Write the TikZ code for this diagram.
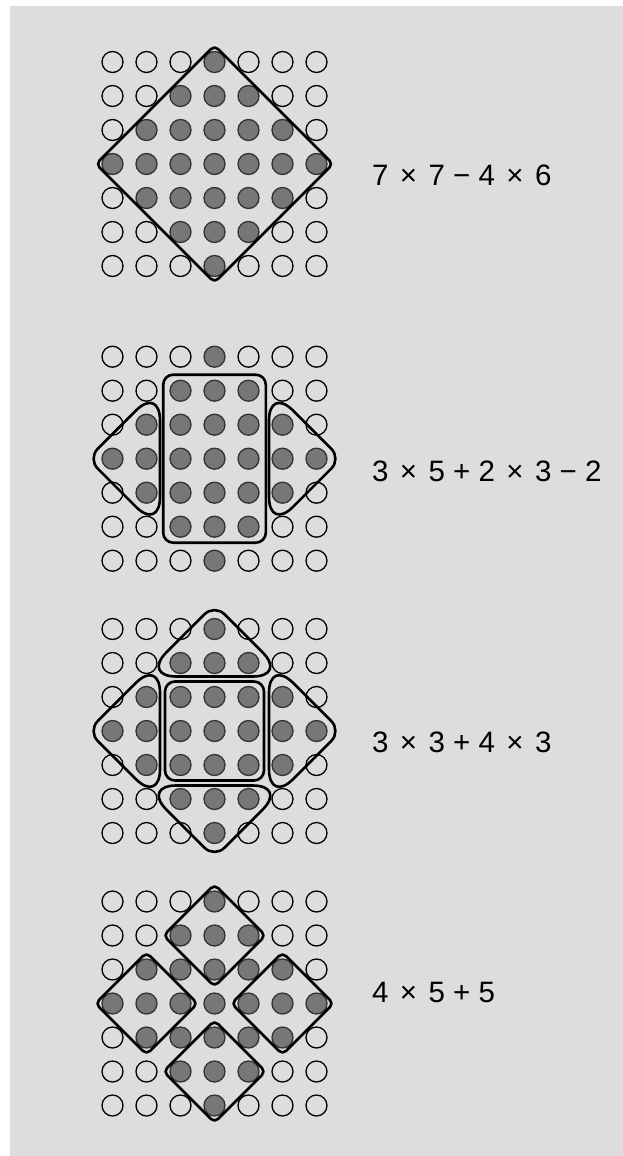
\documentclass[tikz,border=0pt]{standalone}
\usepackage{fontspec}
\setmainfont{Liberation Sans}
\usetikzlibrary{positioning}

\definecolor{panel}{RGB}{221,221,221}
\definecolor{beadgray}{RGB}{119,119,119}

% times sign, set a little wider
\newcommand{\by}{\kern3.2pt×\kern3.2pt}
% triangle of four beads, pointing out from the centre bead
\newcommand{\wedgeshape}[2]{%
  \draw[group,shift={#1},rotate=#2]
    (54.5,0) [rounded corners=34pt] -- (54.5,72.2) [rounded corners=14pt] -- (126.7,0)
    [rounded corners=34pt] -- (54.5,-72.2) -- cycle;}
% square turned on its corner
\newcommand{\rhombshape}[2]{%
  \draw[group,rounded corners=5pt,shift={#1}]
    (-#2/2,-#2/2) -- (0,-#2) -- (#2,0) -- (0,#2) -- (-#2,0) -- cycle;}

\begin{document}
\begin{tikzpicture}[
  x=1pt,
  y=-1pt,
  dot/.style={circle,line width=1.3pt,minimum size=21pt,inner sep=0pt},
  hole/.style={dot,draw=black},
  bead/.style={dot,draw=black!80,fill=beadgray},
  group/.style={draw=black,line width=2.6pt,line join=round},
  sum/.style={anchor=west,inner sep=0pt,font=\fontsize{29.5}{34}\selectfont}
]
\useasboundingbox (0,0) rectangle (623,1156);
\fill[panel] (10,6) rectangle (623,1156);

% bead grids
\foreach \g/\cy in {a/164,b/458.7,c/731,d/1003.5} {
  \foreach \i in {1,...,7} {
    \foreach \j in {1,...,7} {
      \pgfmathtruncatemacro\dd{abs(\i-4)+abs(\j-4)}
      \ifnum\dd<4 \def\kind{bead}\else\def\kind{hole}\fi
      \node[\kind] (\g-\i-\j) at (214.5+34*\i-136,\cy+34*\j-136) {};
    }
  }
}

% grid a
\rhombshape{(a-4-4)}{118.5}

% grid b
\draw[group,rounded corners=10pt,shift={(b-4-4)}] (-51.3,-84) rectangle (51.3,84);
\wedgeshape{(b-4-4)}{0}
\wedgeshape{(b-4-4)}{180}

% grid c
\draw[group,rounded corners=10pt,shift={(c-4-4)}] (-49.5,-49.5) rectangle (49.5,49.5);
\wedgeshape{(c-4-4)}{0}
\wedgeshape{(c-4-4)}{90}
\wedgeshape{(c-4-4)}{180}
\wedgeshape{(c-4-4)}{270}

% grid d
\rhombshape{(d-4-2)}{51}
\rhombshape{(d-2-4)}{51}
\rhombshape{(d-6-4)}{51}
\rhombshape{(d-4-6)}{51}

% sums
\node[sum] (suma) at (372,175.5) {7 \by{} 7 − 4 \by{} 6};
\node[sum] (sumb) at (372,471) {3 \by{} 5 + 2 \by{} 3 − 2};
\node[sum] (sumc) at (372,742.5) {3 \by{} 3 + 4 \by{} 3};
\node[sum] (sumd) at (372,992.5) {4 \by{} 5 + 5};
\end{tikzpicture}
\end{document}
